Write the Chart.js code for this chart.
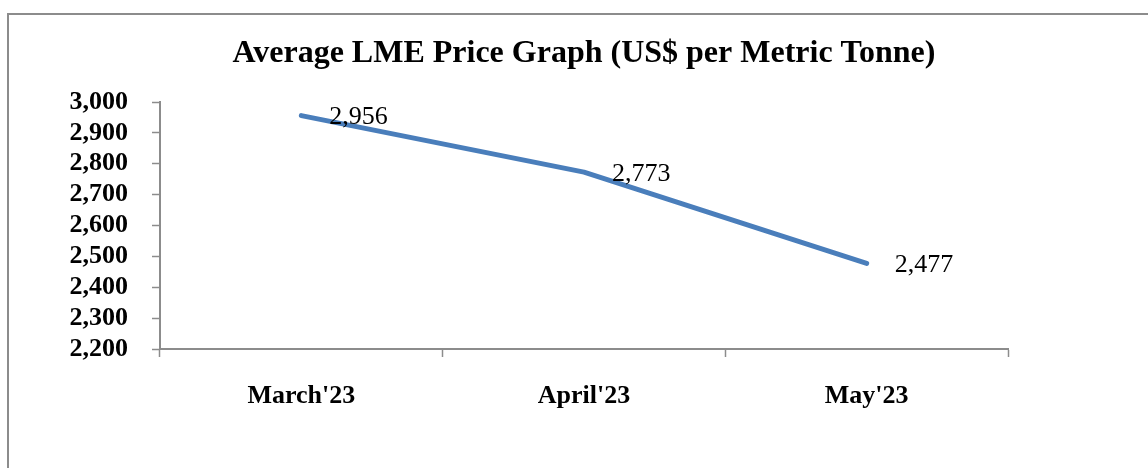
<!DOCTYPE html>
<html>
<head>
<meta charset="utf-8">
<script src="https://cdn.jsdelivr.net/npm/chart.js@4"></script>
<style>
  html, body { margin: 0; padding: 0; background: #fff; overflow: hidden; }
  #frame {
    position: absolute; left: 7px; top: 13px;
    width: 1200px; height: 500px;
    border: 2px solid #8c8c8c;
  }
  #wrap { position: absolute; left: 0; top: 0; width: 1148px; height: 468px; }
</style>
</head>
<body>
<div id="frame"></div>
<div id="wrap"><canvas id="lmeChart"></canvas></div>
<script>
// Chart data
const months = ["March'23", "April'23", "May'23"];
const avgPrice = [2956, 2773, 2477];
const yMin = 2200;
const yMax = 3000;
const yStep = 100;
const chartTitle = 'Average LME Price Graph (US$ per Metric Tonne)';

const serif = '"Liberation Serif", "Times New Roman", serif';

// Title centred over the plot area
const titlePlugin = {
    id: 'plotTitle',
    afterDraw(chart) {
        const ctx = chart.ctx;
        const area = chart.chartArea;
        ctx.save();
        ctx.font = 'bold 32px ' + serif;
        ctx.fillStyle = '#000';
        ctx.textAlign = 'center';
        ctx.textBaseline = 'middle';
        ctx.fillText(chartTitle, (area.left + area.right) / 2, 54);
        ctx.restore();
    }
};

// Value labels to the right of each point
const valueLabels = {
    id: 'valueLabels',
    afterDatasetsDraw(chart) {
        const ctx = chart.ctx;
        const meta = chart.getDatasetMeta(0);
        ctx.save();
        ctx.font = '26px ' + serif;
        ctx.fillStyle = '#000';
        ctx.textAlign = 'left';
        ctx.textBaseline = 'middle';
        meta.data.forEach((pt, i) => {
            ctx.fillText(avgPrice[i].toLocaleString('en-US'), pt.x + 28, pt.y + 2);
        });
        ctx.restore();
    }
};

const ctx = document.getElementById('lmeChart').getContext('2d');
new Chart(ctx, {
    type: 'line',
    data: {
        labels: months,
        datasets: [{
            label: 'Average LME Price',
            data: avgPrice,
            borderColor: '#4a7ebb',
            borderWidth: 5,
            borderCapStyle: 'round',
            borderJoinStyle: 'round',
            pointRadius: 0,
            tension: 0,
            fill: false
        }]
    },
    options: {
        responsive: true,
        maintainAspectRatio: false,
        animation: false,
        layout: {
            padding: { top: 102, right: 140, bottom: 0, left: 10 }
        },
        plugins: {
            legend: { display: false },
            title: { display: false },
            tooltip: { enabled: false }
        },
        scales: {
            x: {
                offset: true,
                grid: {
                    offset: true,
                    drawOnChartArea: false,
                    drawTicks: true,
                    tickLength: 8,
                    tickColor: '#8c8c8c',
                    tickWidth: 1.5
                },
                border: { color: '#8c8c8c', width: 2 },
                ticks: {
                    color: '#000',
                    padding: 24,
                    font: { family: serif, size: 26, weight: 'bold' }
                },
                afterFit(scale) { scale.height = 119; }
            },
            y: {
                min: yMin,
                max: yMax,
                grid: {
                    drawOnChartArea: false,
                    drawTicks: true,
                    tickLength: 8,
                    tickColor: '#8c8c8c',
                    tickWidth: 1.5
                },
                border: { color: '#8c8c8c', width: 2 },
                ticks: {
                    stepSize: yStep,
                    autoSkip: false,
                    color: '#000',
                    padding: 24,
                    font: { family: serif, size: 26, weight: 'bold' },
                    callback: (v) => v.toLocaleString('en-US')
                },
                afterFit(scale) { scale.width = 150; }
            }
        }
    },
    plugins: [titlePlugin, valueLabels]
});
</script>
</body>
</html>
